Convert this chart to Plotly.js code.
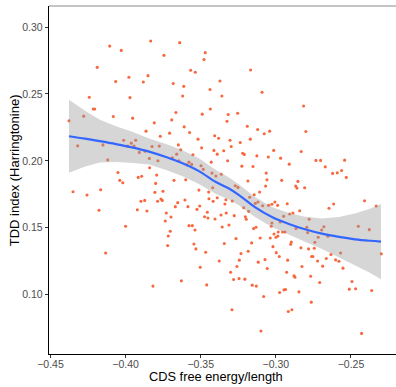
<!DOCTYPE html>
<html>
<head>
<meta charset="utf-8">
<script src="https://cdn.plot.ly/plotly-3.0.1.min.js"></script>
<style>html,body{margin:0;padding:0;background:#fff;}#chart{width:396px;height:387px;}</style>
</head>
<body>
<div id="chart"></div>
<script>
// Scatter data: CDS free energy/length vs TDD index (Harringtonine)
const energy = [
-0.4106,-0.3833,-0.3640,-0.4029,-0.3470,-0.3745,-0.3478,-0.4189,-0.3567,-0.3536,
-0.3851,-0.3978,-0.4066,-0.3882,-0.3683,-0.3372,-0.3613,-0.3438,-0.3168,-0.3092,
-0.4242,-0.3971,-0.3620,-0.4215,-0.4206,-0.3436,-0.3665,-0.3490,-0.4279,-0.4082,
-0.3953,-0.3693,-0.4377,-0.3809,-0.3610,-0.3864,-0.3574,-0.3707,-0.3407,-0.3381,
-0.3769,-0.3518,-0.4013,-0.3933,-0.3962,-0.4319,-0.4151,-0.3986,-0.3944,-0.3649,
-0.3824,-0.3776,-0.3494,-0.3633,-0.3412,-0.3869,-0.3909,-0.3390,-0.3552,-0.3660,
-0.3689,-0.3842,-0.4119,-0.3785,-0.3645,-0.3578,-0.3430,-0.3592,-0.3560,-0.3498,
-0.3840,-0.3483,-0.4051,-0.3425,-0.3363,-0.3793,-0.3893,-0.3916,-0.3399,-0.4039,
-0.3678,-0.3600,-0.3359,-0.2815,-0.3254,-0.3317,-0.3325,-0.3190,-0.3121,-0.3041,
-0.2800,-0.3077,-0.3170,-0.3305,-0.3237,-0.3297,-0.3014,-0.3347,-0.2831,-0.3221,
-0.3210,-0.3126,-0.3050,-0.2968,-0.3321,-0.2733,-0.2702,-0.2542,-0.2911,-0.3226,
-0.3152,-0.2671,-0.2562,-0.2591,-0.2622,-0.3064,-0.2531,-0.3186,-0.3059,-0.2961,
-0.2853,-0.4019,-0.3800,-0.4350,-0.4166,-0.4257,-0.3805,-0.3751,-0.3512,-0.3420,
-0.3447,-0.3765,-0.3756,-0.3898,-0.3873,-0.3787,-0.3605,-0.3653,-0.3445,-0.3390,
-0.3417,-0.3669,-0.3585,-0.3507,-0.3525,-0.4177,-0.3922,-0.3858,-0.3729,-0.3456,
-0.3365,-0.3698,-0.3474,-0.3452,-0.3405,-0.3736,-0.4000,-0.3578,-0.3556,-0.3357,
-0.3538,-0.3703,-0.3716,-0.3545,-0.3720,-0.3532,-0.3467,-0.4133,-0.3377,-0.3503,
-0.3270,-0.3252,-0.3068,-0.2868,-0.2859,-0.2808,-0.3108,-0.3144,-0.3174,-0.3332,
-0.3290,-0.3339,-0.3137,-0.3119,-0.3006,-0.3026,-0.2988,-0.2924,-0.3088,-0.3048,
-0.3214,-0.3181,-0.2615,-0.2646,-0.2409,-0.2332,-0.2841,-0.2886,-0.2908,-0.2948,
-0.3330,-0.3277,-0.3203,-0.3197,-0.2778,-0.3026,-0.2971,-0.3312,-0.3030,-0.3148,
-0.3132,-0.2866,-0.2793,-0.2680,-0.2695,-0.2451,-0.2378,-0.2984,-0.2955,-0.2939,
-0.2788,-0.3012,-0.2986,-0.2999,-0.2653,-0.3265,-0.3104,-0.3037,-0.2897,-0.2718,
-0.2740,-0.2901,-0.3343,-0.3161,-0.3019,-0.2833,-0.2782,-0.2744,-0.3184,-0.3232,
-0.2997,-0.2569,-0.2633,-0.2977,-0.2762,-0.2753,-0.2298,-0.2664,-0.3243,-0.3072,
-0.2921,-0.2722,-0.2602,-0.2580,-0.3117,-0.3259,-0.2826,-0.2688,-0.2553,-0.3057,
-0.3818,-0.3629,-0.3460,-0.3301,-0.3281,-0.3245,-0.3206,-0.3157,-0.3130,-0.3081,
-0.2928,-0.2879,-0.2873,-0.2768,-0.2708,-0.2946,-0.2935,-0.2975,-0.2846,-0.2764,
-0.2893,-0.2917,-0.3292,-0.3099,-0.2493,-0.2511,-0.2469,-0.2362,-0.2429
];
const tdd = [
0.2858,0.2896,0.2884,0.2826,0.2809,0.2789,0.2757,0.2699,0.2677,0.2662,
0.2637,0.2625,0.2593,0.2590,0.2578,0.2597,0.2557,0.2533,0.2679,0.2513,
0.2475,0.2473,0.2485,0.2388,0.2388,0.2388,0.2361,0.2349,0.2334,0.2331,
0.2319,0.2306,0.2299,0.2284,0.2254,0.2222,0.2212,0.2207,0.2187,0.2169,
0.2184,0.2162,0.2154,0.2154,0.2132,0.2112,0.2119,0.2110,0.2110,0.2119,
0.2107,0.2110,0.2097,0.2082,0.2078,0.2072,0.2063,0.2050,0.2045,0.2050,
0.2022,0.2018,0.2007,0.2000,0.2000,0.1990,0.1990,0.1970,0.1973,0.1963,
0.1948,0.1936,0.1913,0.1908,0.1899,0.1893,0.1884,0.1876,0.1886,0.1854,
0.1854,0.1858,0.2485,0.2410,0.2356,0.2346,0.2296,0.2259,0.2234,0.2222,
0.2219,0.2202,0.2162,0.2154,0.2137,0.2107,0.2078,0.2075,0.2070,0.2057,
0.2048,0.2037,0.2028,0.2020,0.2000,0.2003,0.2003,0.2005,0.1975,0.1960,
0.1958,0.1955,0.1928,0.1910,0.1906,0.1908,0.1876,0.1849,0.1858,0.1854,
0.1846,0.1836,0.1831,0.1769,0.1784,0.1744,0.1764,0.1772,0.1781,0.1798,
0.1766,0.1714,0.1704,0.1697,0.1704,0.1697,0.1707,0.1687,0.1716,0.1724,
0.1697,0.1657,0.1657,0.1662,0.1637,0.1630,0.1634,0.1625,0.1610,0.1615,
0.1595,0.1580,0.1582,0.1572,0.1565,0.1550,0.1510,0.1515,0.1515,0.1505,
0.1483,0.1473,0.1438,0.1378,0.1366,0.1341,0.1316,0.1311,0.1251,0.1204,
0.1813,0.1801,0.1811,0.1811,0.1796,0.1798,0.1766,0.1746,0.1727,0.1709,
0.1699,0.1677,0.1682,0.1692,0.1692,0.1675,0.1667,0.1679,0.1664,0.1667,
0.1649,0.1622,0.1677,0.1645,0.1701,0.1662,0.1627,0.1610,0.1602,0.1585,
0.1610,0.1590,0.1582,0.1563,0.1563,0.1535,0.1543,0.1520,0.1510,0.1493,
0.1503,0.1493,0.1503,0.1507,0.1483,0.1510,0.1485,0.1468,0.1468,0.1468,
0.1463,0.1453,0.1438,0.1428,0.1436,0.1418,0.1423,0.1423,0.1393,0.1428,
0.1391,0.1376,0.1381,0.1386,0.1358,0.1349,0.1341,0.1346,0.1324,0.1306,
0.1313,0.1311,0.1299,0.1284,0.1284,0.1284,0.1304,0.1269,0.1257,0.1261,
0.1257,0.1251,0.1259,0.1249,0.1242,0.1209,0.1209,0.1212,0.1197,0.1194,
0.1063,0.1102,0.1072,0.1167,0.1112,0.1119,0.1115,0.1070,0.1063,0.0985,
0.1167,0.1140,0.1130,0.1137,0.1090,0.1035,0.1037,0.1015,0.1020,0.0943,
0.0886,0.0873,0.0886,0.0727,0.1097,0.1040,0.1043,0.1030,0.0709
];

// LOESS smooth and its standard-error half-width
const fitX = [-0.4377,-0.4270,-0.4171,-0.4064,-0.3951,-0.3844,-0.3731,-0.3625,-0.3512,-0.3399,
-0.3312,-0.3245,-0.3139,-0.3026,-0.2913,-0.2806,-0.2693,-0.2580,-0.2473,-0.2374,-0.2300];
const fitY = [0.2184,0.2166,0.2147,0.2125,0.2099,0.2069,0.2028,0.1983,0.1923,0.1841,
0.1793,0.1744,0.1654,0.1580,0.1528,0.1488,0.1455,0.1431,0.1413,0.1402,0.1396];
const fitSE = [0.0273,0.0209,0.0160,0.0134,0.0116,0.0097,0.0097,0.0097,0.0097,0.0090,
0.0082,0.0078,0.0075,0.0075,0.0081,0.0093,0.0114,0.0149,0.0193,0.0239,0.0281];

const xTicks = [-0.45,-0.40,-0.35,-0.30,-0.25];
const yTicks = [0.10,0.15,0.20,0.25,0.30];
const xTitle = 'CDS free energy/length';
const yTitle = 'TDD index (Harringtonine)';

const upper = fitY.map((v,i)=>v+fitSE[i]);
const lower = fitY.map((v,i)=>v-fitSE[i]);

const traces = [
  {x: energy, y: tdd, type:'scatter', mode:'markers',
   marker:{color:'#F8683F', size:3.1, line:{width:0}}, hoverinfo:'skip'},
  {x: fitX.concat(fitX.slice().reverse()), y: upper.concat(lower.slice().reverse()),
   type:'scatter', mode:'lines', fill:'toself', fillcolor:'rgba(153,153,153,0.4)',
   line:{width:0}, hoverinfo:'skip'},
  {x: fitX, y: fitY, type:'scatter', mode:'lines',
   line:{color:'#3366FF', width:2.2, shape:'spline'}, hoverinfo:'skip'}
];

const font = 'Liberation Sans, Arial, Helvetica, sans-serif';
const layout = {
  width:396, height:387,
  margin:{l:49, r:0, t:6, b:33},
  paper_bgcolor:'#fff', plot_bgcolor:'#fff',
  showlegend:false,
  font:{family:font},
  xaxis:{range:[-0.451,-0.220], tickvals:xTicks, ticktext:xTicks.map(v=>'\u2212'+Math.abs(v).toFixed(2)),
    showgrid:false, zeroline:false, showline:true, linecolor:'#000', linewidth:1.3,
    ticks:'outside', ticklen:3, tickcolor:'#333', tickwidth:1, ticklabelstandoff:-3,
    tickfont:{size:10.5, color:'#4D4D4D', family:font}},
  yaxis:{range:[0.0555,0.3158], tickvals:yTicks, ticktext:yTicks.map(v=>v.toFixed(2)),
    showgrid:false, zeroline:false, showline:true, linecolor:'#000', linewidth:1.3,
    ticks:'outside', ticklen:3, tickcolor:'#333', tickwidth:1,
    tickfont:{size:10.5, color:'#4D4D4D', family:font}},
  annotations:[
    {text:xTitle, xref:'paper', yref:'paper', x:0.481, y:-0.0635, xanchor:'center', yanchor:'middle',
     showarrow:false, font:{size:12.8, color:'#000', family:font}},
    {text:yTitle, xref:'paper', yref:'paper', x:-0.099, y:0.527, xanchor:'center', yanchor:'middle',
     textangle:-90, showarrow:false, font:{size:13, color:'#000', family:font}}
  ],
  shapes:[{type:'line', xref:'paper', yref:'paper', x0:0, x1:1, y0:1, y1:1,
    line:{color:'#8a8a8a', width:1}}]
};

Plotly.newPlot('chart', traces, layout, {displayModeBar:false, staticPlot:true});
</script>
</body>
</html>
